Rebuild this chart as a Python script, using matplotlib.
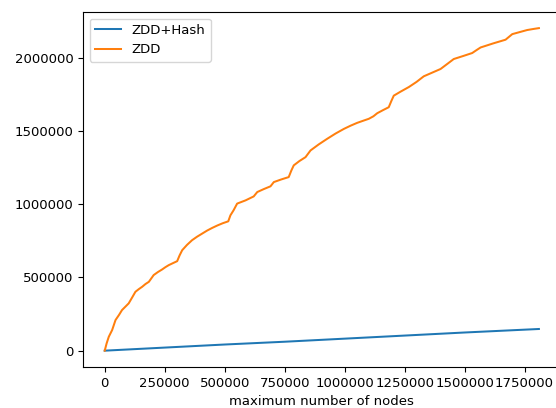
import numpy as np
import matplotlib
matplotlib.use('Agg')
import matplotlib.pyplot as plt

plt.rcParams['font.size'] = 9.5
plt.rcParams['lines.linewidth'] = 1.45

# ZDD+Hash
x_hash = [0, 250000, 500000, 750000, 1000000, 1250000, 1500000, 1810000]
y_hash = [0, 21000, 42000, 61000, 82000, 103000, 124000, 148000]

# ZDD
x_zdd = [0, 8000, 17000, 31000, 45000, 60000, 72000, 86000, 100000, 115000,
         128000, 142000, 156000, 170000, 184000, 204000, 222000, 239000, 253000,
         267000, 285000, 302000, 312000, 323000, 343000, 364000, 385000, 406000,
         427000, 448000, 470000, 492000, 515000, 524000, 537000, 552000, 587000,
         621000, 636000, 663000, 691000, 705000, 736000, 767000, 778000, 788000,
         812000, 837000, 858000, 892000, 927000, 962000, 997000, 1025000,
         1052000, 1078000, 1101000, 1120000, 1136000, 1160000, 1184000, 1195000,
         1205000, 1233000, 1268000, 1300000, 1330000, 1365000, 1400000, 1430000,
         1455000, 1495000, 1532000, 1550000, 1567000, 1620000, 1671000, 1685000,
         1699000, 1730000, 1761000, 1790000, 1810000]
y_zdd = [0, 50000, 95000, 141000, 209000, 245000, 277000, 300000, 323000, 365000,
         402000, 420000, 436000, 455000, 470000, 516000, 537000, 554000, 570000,
         584000, 598000, 611000, 650000, 686000, 722000, 754000, 778000, 799000,
         820000, 838000, 855000, 870000, 883000, 924000, 958000, 1004000, 1026000,
         1053000, 1083000, 1103000, 1122000, 1151000, 1169000, 1185000, 1230000,
         1265000, 1295000, 1321000, 1367000, 1408000, 1446000, 1482000, 1514000,
         1536000, 1555000, 1570000, 1583000, 1600000, 1621000, 1642000, 1662000,
         1705000, 1741000, 1768000, 1800000, 1835000, 1873000, 1898000, 1923000,
         1960000, 1991000, 2012000, 2032000, 2052000, 2070000, 2098000, 2123000,
         2142000, 2161000, 2175000, 2189000, 2197000, 2202000]

fig = plt.figure(figsize=(5.56, 4.08), dpi=100)
ax = fig.add_axes([0.1493, 0.101, 0.859, 0.8696])

ax.plot(x_hash, y_hash, label='ZDD+Hash')
ax.plot(x_zdd, y_zdd, label='ZDD')

ax.set_xticks(np.arange(0, 1750001, 250000))
ax.set_yticks(np.arange(0, 2000001, 500000))
ax.ticklabel_format(style='plain', useOffset=False)
ax.set_xlabel('maximum number of nodes')
ax.legend(loc='upper left')

plt.savefig('out.png')
